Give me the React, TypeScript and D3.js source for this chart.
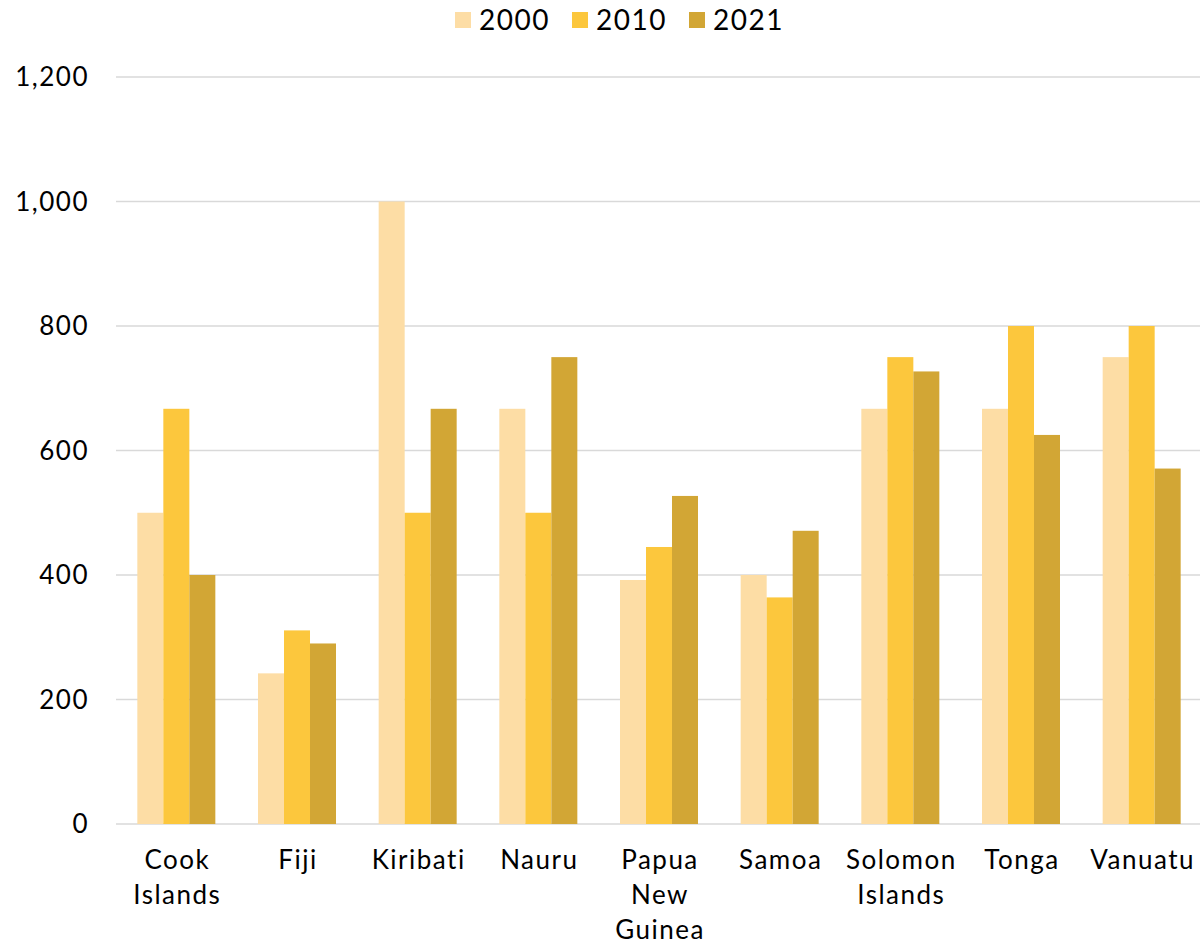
import React, { useRef, useEffect } from 'react'
import * as d3 from 'd3'

const countries = [
  'Cook Islands',
  'Fiji',
  'Kiribati',
  'Nauru',
  'Papua New Guinea',
  'Samoa',
  'Solomon Islands',
  'Tonga',
  'Vanuatu',
]
const years = ['2000', '2010', '2021']
const values2000 = [500, 242, 1000, 667, 392, 400, 667, 667, 750]
const values2010 = [667, 311, 500, 500, 445, 364, 750, 800, 800]
const values2021 = [400, 290, 667, 750, 527, 471, 727, 625, 571]
const yTicks = [0, 200, 400, 600, 800, 1000, 1200]
const colors = ['#FDDDA5', '#FCC73D', '#D2A635']

// labels wrap like the original
const labelLines: Record<string, string[]> = {
  'Cook Islands': ['Cook', 'Islands'],
  'Papua New Guinea': ['Papua', 'New', 'Guinea'],
  'Solomon Islands': ['Solomon', 'Islands'],
}

const Chart: React.FC = () => {
  const ref = useRef<SVGSVGElement>(null)

  useEffect(() => {
    document.body.style.margin = '0'
    const width = 1200
    const height = 944
    const svg = d3.select(ref.current)
    svg.selectAll('*').remove()
    const font = 'Lato, "Open Sans", sans-serif'
    const ls = '1.5px'

    const x = d3.scaleBand().domain(countries).range([116, 1202]).paddingInner(0).paddingOuter(0)
    const x1 = d3.scaleBand().domain(years).range([0, 78])
    const y = d3.scaleLinear().domain([0, 1200]).range([824, 77])

    // gridlines
    svg
      .append('g')
      .selectAll('line')
      .data(yTicks)
      .join('line')
      .attr('x1', 116)
      .attr('x2', 1200)
      .attr('y1', d => y(d))
      .attr('y2', d => y(d))
      .attr('stroke', '#D9D9D9')
      .attr('stroke-width', 1.5)

    const series = [values2000, values2010, values2021]
    const g = svg
      .append('g')
      .selectAll('g')
      .data(countries)
      .join('g')
      .attr('transform', d => `translate(${(x(d) as number) + (x.bandwidth() - 78) / 2},0)`)

    g.selectAll('rect')
      .data((d, i) => years.map((yr, k) => ({ yr, v: series[k][i], k })))
      .join('rect')
      .attr('x', d => x1(d.yr) as number)
      .attr('width', x1.bandwidth())
      .attr('y', d => y(d.v))
      .attr('height', d => y(0) - y(d.v))
      .attr('fill', d => colors[d.k])

    // y tick labels
    svg
      .append('g')
      .selectAll('text')
      .data(yTicks)
      .join('text')
      .attr('x', 89)
      .attr('y', d => y(d))
      .attr('dy', '0.35em')
      .attr('text-anchor', 'end')
      .style('font-family', font)
      .style('font-size', '26px')
      .style('letter-spacing', ls)
      .attr('fill', '#000')
      .text(d => d3.format(',')(d))

    // category labels
    const cl = svg
      .append('g')
      .selectAll('text')
      .data(countries)
      .join('text')
      .attr('y', 869)
      .attr('text-anchor', 'middle')
      .style('font-family', font)
      .style('font-size', '26px')
      .style('letter-spacing', ls)
      .attr('fill', '#000')
    cl.selectAll('tspan')
      .data(d => (labelLines[d] || [d]).map(t => ({ t, c: d })))
      .join('tspan')
      .attr('x', d => (x(d.c) as number) + x.bandwidth() / 2 + 1)
      .attr('dy', (d, i) => (i === 0 ? 0 : 35))
      .text(d => d.t)

    // legend
    const legendX = [455, 572, 689]
    const lg = svg
      .append('g')
      .selectAll('g')
      .data(years)
      .join('g')
      .attr('transform', (d, i) => `translate(${legendX[i]},0)`)
    lg.append('rect')
      .attr('x', 0)
      .attr('y', 12)
      .attr('width', 16)
      .attr('height', 16)
      .attr('fill', (d, i) => colors[i])
    lg.append('text')
      .attr('x', 24)
      .attr('y', 20)
      .attr('dy', '0.35em')
      .style('font-family', font)
      .style('font-size', '28px')
      .style('letter-spacing', ls)
      .attr('fill', '#000')
      .text(d => d)

    svg.attr('width', width).attr('height', height)
  }, [])

  return <svg ref={ref} width={1200} height={944} style={{ display: 'block' }}></svg>
}

const App: React.FC = () => {
  return (
    <div id="container">
      <Chart />
    </div>
  )
}

export default App
